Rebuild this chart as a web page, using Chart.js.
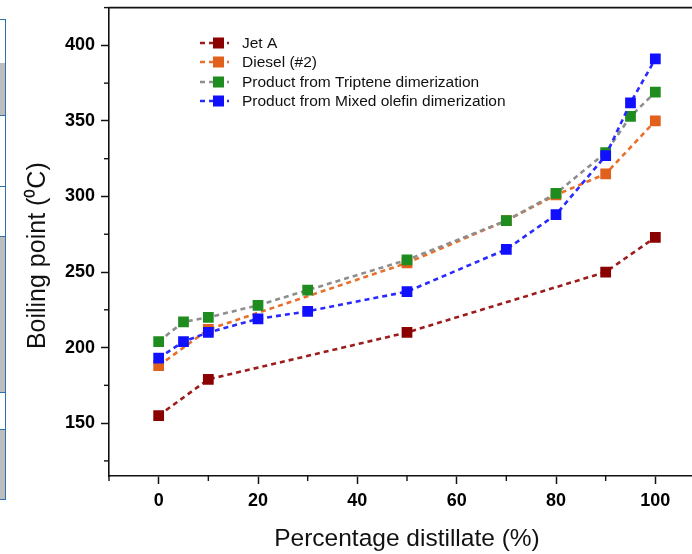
<!DOCTYPE html>
<html><head><meta charset="utf-8">
<script src="https://cdn.jsdelivr.net/npm/chart.js@4"></script>
<style>
html,body{margin:0;padding:0;background:#fff;overflow:hidden;width:692px;height:554px;}
#wrap{position:absolute;left:0;top:0;width:720px;height:554px;}
.cell{position:absolute;left:0;width:5px;border-right:1.5px solid #2f6fae;border-bottom:1.5px solid #2f6fae;}
</style></head><body>
<div id="wrap"><canvas id="c" width="720" height="554"></canvas></div>
<div id="deco"></div>
<script>
// ---- data ----
const seriesLabels = ["Jet A", "Diesel (#2)", "Product from Triptene dimerization", "Product from Mixed olefin dimerization"];
const jetX = [0, 10, 50, 90, 100];
const jetY = [155, 179, 210, 250, 273];
const dieselX = [0, 10, 50, 70, 80, 90, 100];
const dieselY = [188, 212, 256, 284, 301, 315, 350];
const triptX = [0, 5, 10, 20, 30, 50, 70, 80, 90, 95, 100];
const triptY = [204, 217, 220, 228, 238, 258, 284, 302, 329, 353, 369];
const mixedX = [0, 5, 10, 20, 30, 50, 70, 80, 90, 95, 100];
const mixedY = [193, 204, 210, 219, 224, 237, 265, 288, 327, 362, 391];
const xTickLabels = [0, 20, 40, 60, 80, 100];
const yTickLabels = [150, 200, 250, 300, 350, 400];

// decorative strip of neighbouring panel
const cells = [[19,63,false],[63,116,true],[116,187,false],[187,237,false],[237,393,true],[393,430,false],[430,500,true]];
const deco = document.getElementById('deco');
cells.forEach(([a,b,g])=>{
  const d=document.createElement('div');d.className='cell';
  d.style.top=a+'px';d.style.height=(b-a-1.5)+'px';
  d.style.background=g?'#bdbdbd':'#fff';
  if(a===19) d.style.borderTop='1.5px solid #2f6fae';
  deco.appendChild(d);
});

const pts = (xs, ys) => xs.map((x, i) => ({x: x, y: ys[i]}));
const styles = [
  {point:'#8b0000', line:'#9c1c1c'},
  {point:'#e0601c', line:'#e8702c'},
  {point:'#1e8c1e', line:'#8e8e8e'},
  {point:'#1010ff', line:'#2a2aff'}
];
const dataSets = [pts(jetX, jetY), pts(dieselX, dieselY), pts(triptX, triptY), pts(mixedX, mixedY)];

const datasets = dataSets.map((d, i) => ({
  label: seriesLabels[i],
  data: d,
  order: 4 - i,
  borderColor: styles[i].line,
  backgroundColor: styles[i].point,
  pointBackgroundColor: styles[i].point,
  pointBorderColor: styles[i].point,
  pointBorderWidth: 0,
  pointStyle: 'rect',
  pointRadius: 7.6,
  borderWidth: 2.6,
  borderDash: [5, 4],
  tension: 0,
  fill: false
}));

const F = "Arial, 'Liberation Sans', sans-serif";

const framePlugin = {
  id: 'frame',
  afterDatasetsDraw(chart) {
    const {ctx, chartArea: a, scales} = chart;
    ctx.save();
    ctx.strokeStyle = '#111';
    ctx.lineWidth = 1.6;
    ctx.beginPath();
    ctx.moveTo(a.left, a.top); ctx.lineTo(a.right, a.top);
    ctx.stroke();
    // minor ticks
    ctx.lineWidth = 1.4;
    const xs = scales.x, ys = scales.y;
    for (let v = -10; v <= 110; v += 20) {
      const px = xs.getPixelForValue(v);
      ctx.beginPath(); ctx.moveTo(px, a.bottom); ctx.lineTo(px, a.bottom + 5); ctx.stroke();
    }
    for (let v = 125; v <= 425; v += 50) {
      const py = ys.getPixelForValue(v);
      ctx.beginPath(); ctx.moveTo(a.left, py); ctx.lineTo(a.left - 5, py); ctx.stroke();
    }
    ctx.restore();
  },
  afterDraw(chart) {
    // legend
    const {ctx} = chart;
    const rows = [43, 62, 82, 101];
    ctx.save();
    ctx.font = "15.5px " + F;
    ctx.textBaseline = 'middle';
    chart.data.datasets.forEach((ds, i) => {
      const y = rows[i];
      ctx.strokeStyle = ds.borderColor;
      ctx.lineWidth = 2.4;
      ctx.setLineDash([5, 4]);
      ctx.beginPath(); ctx.moveTo(200, y); ctx.lineTo(236, y); ctx.stroke();
      ctx.setLineDash([]);
      ctx.fillStyle = '#fff';
      ctx.fillRect(205, y - 5.5, 4, 11);
      ctx.fillRect(229, y - 5.5, 4, 11);
      ctx.fillStyle = ds.pointBackgroundColor;
      ctx.fillRect(213, y - 5.5, 11, 11);
      ctx.fillStyle = '#111';
      ctx.fillText(ds.label, 242, y + 1);
    });
    ctx.restore();
  }
};

new Chart(document.getElementById('c'), {
  type: 'line',
  data: {datasets: datasets},
  options: {
    responsive: false,
    animation: false,
    layout: {padding: {top: 5, right: 15, left: 0, bottom: 0}},
    plugins: {legend: {display: false}, tooltip: {enabled: false}},
    scales: {
      x: {
        type: 'linear',
        min: -10, max: 110,
        afterFit(s) { s.height = 78; s.paddingLeft = 0; s.paddingRight = 0; },
        afterBuildTicks(s) { s.ticks = xTickLabels.map(v => ({value: v})); },
        ticks: {
          autoSkip: false,
          maxRotation: 0,
          padding: 6,
          color: '#000',
          font: {family: F, size: 18, weight: 'bold'},
          callback: v => String(v)
        },
        grid: {drawOnChartArea: false, drawTicks: true, tickLength: 8, tickWidth: 1.5, tickColor: '#111', color: '#111'},
        border: {display: true, color: '#111', width: 1.6},
        title: {display: true, text: 'Percentage distillate (%)', color: '#111',
          font: {family: F, size: 24.5}, padding: {top: 0, bottom: 0}}
      },
      y: {
        type: 'linear',
        min: 115, max: 425,
        afterFit(s) { s.width = 109; s.paddingTop = 0; s.paddingBottom = 0; },
        afterBuildTicks(s) { s.ticks = yTickLabels.map(v => ({value: v})); },
        ticks: {
          autoSkip: false,
          padding: 6,
          color: '#000',
          font: {family: F, size: 18, weight: 'bold'},
          callback: v => String(v)
        },
        grid: {drawOnChartArea: false, drawTicks: true, tickLength: 8, tickWidth: 1.5, tickColor: '#111', color: '#111'},
        border: {display: true, color: '#111', width: 1.6},
        title: {display: true, text: 'Boiling point (\u2070C)    ', color: '#111',
          font: {family: F, size: 25}, padding: {top: 23, bottom: 0}}
      }
    }
  },
  plugins: [framePlugin]
});
</script>
</body></html>
